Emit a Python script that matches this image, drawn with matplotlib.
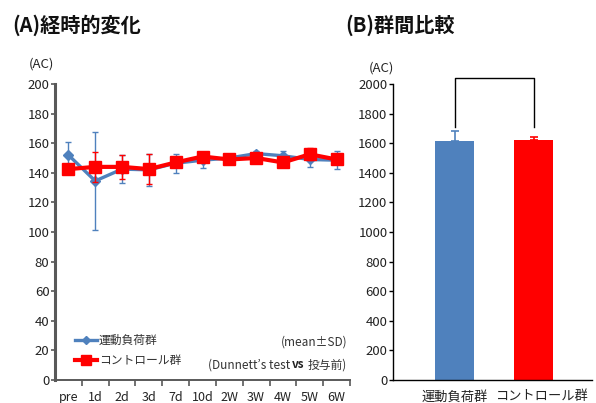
import matplotlib
matplotlib.use("Agg")
import matplotlib.pyplot as plt
from matplotlib.lines import Line2D
from matplotlib.transforms import blended_transform_factory
import numpy as np

plt.rcParams['font.family'] = ['Noto Sans CJK JP', 'DejaVu Sans']

# ---- (A) time course data ----
timepoints = ["pre", "1d", "2d", "3d", "7d", "10d", "2W", "3W", "4W", "5W", "6W"]
exercise_mean = [152, 134.5, 142.5, 142, 146.5, 148.5, 150, 153, 151.5, 149, 148.5]
exercise_sd = [9, 33, 9.5, 11, 6.5, 5, 2, 2, 3, 5, 6]
control_mean = [142.5, 144, 144, 142.5, 147, 151, 149, 150, 147, 152.5, 149]
control_sd = [3, 10, 8, 10, 3, 2, 2, 2, 3, 4, 3]

# ---- (B) group comparison data ----
groups = ["運動負荷群", "コントロール群"]
group_mean = [1615, 1622]
group_sd = [67, 22]
bracket_low = 1712
bracket_top = 2040

BLUE = "#4F81BD"
RED = "#FF0000"
SPINE = "#595959"
TXT = "#222222"

fig = plt.figure(figsize=(5.96, 4.03), dpi=100)

# ---------- panel A ----------
axA = fig.add_axes([55/596, 1-380/403, (350-55)/596, (380-84)/403])
x = np.arange(len(timepoints))
axA.errorbar(x, exercise_mean, yerr=exercise_sd, color=BLUE, lw=2.4,
             marker='D', markersize=5, ecolor=BLUE, elinewidth=1.0,
             capsize=2.5, capthick=1.0, zorder=3)
axA.errorbar(x, control_mean, yerr=control_sd, color=RED, lw=3.0,
             marker='s', markersize=8.5, ecolor=RED, elinewidth=1.0,
             capsize=2.5, capthick=1.0, zorder=4)
axA.set_xlim(-0.5, len(timepoints) - 0.5)
axA.set_ylim(0, 200)
axA.set_yticks(np.arange(0, 201, 20))
axA.set_xticks(x)
axA.set_xticklabels(timepoints)
axA.set_xticks(np.arange(0.5, len(timepoints), 1.0), minor=True)
axA.tick_params(axis='x', which='major', length=0, pad=8, labelsize=9,
                labelcolor=TXT)
axA.tick_params(axis='x', which='minor', length=4, width=1.2, color=SPINE,
                direction='out')
axA.tick_params(axis='y', length=3, width=1.2, color=SPINE, labelsize=9.5,
                labelcolor=TXT, pad=1)
for side in ('top', 'right'):
    axA.spines[side].set_visible(False)
axA.spines['left'].set_color(SPINE)
axA.spines['left'].set_linewidth(2.2)
axA.spines['bottom'].set_color(SPINE)
axA.spines['bottom'].set_linewidth(1.4)

handles = [Line2D([], [], color=BLUE, lw=2.4, marker='D', markersize=4),
           Line2D([], [], color=RED, lw=3.0, marker='s', markersize=7)]
leg = axA.legend(handles, ["運動負荷群", "コントロール群"], loc='lower left',
                 bbox_to_anchor=(0.04, 0.015), frameon=False, fontsize=8.5,
                 handlelength=1.9, handletextpad=0.1, labelspacing=0.6,
                 borderaxespad=0.3)
for t in leg.get_texts():
    t.set_color('#333333')

axA.text(0.99, 0.127, "(mean±SD)", transform=axA.transAxes, ha='right',
         va='center', fontsize=8.5, color='#333333')
t3 = axA.text(0.99, 0.052, "投与前)", transform=axA.transAxes, ha='right',
              va='center', fontsize=8.5, color='#333333')

fig.text(12/596, 1-25/403, "(A)経時的変化", fontsize=14.5, fontweight='bold',
         va='center', ha='left', color='#111111')
fig.text(29/596, 1-64/403, "(AC)", fontsize=9.5, va='center', ha='left',
         color=TXT)

# ---------- panel B ----------
axB = fig.add_axes([393/596, 1-380/403, (592-393)/596, (380-84)/403])
xb = np.arange(len(groups))
axB.bar(xb, group_mean, width=0.5, color=[BLUE, RED], zorder=2)
axB.errorbar(xb[0], group_mean[0], yerr=[[0], [group_sd[0]]], fmt='none',
             ecolor=BLUE, elinewidth=1.2, capsize=3, capthick=1.2, zorder=3)
axB.errorbar(xb[1], group_mean[1], yerr=[[0], [group_sd[1]]], fmt='none',
             ecolor=RED, elinewidth=1.2, capsize=3, capthick=1.2, zorder=3)
axB.plot([xb[0], xb[0], xb[1], xb[1]],
         [bracket_low, bracket_top, bracket_top, bracket_low],
         color='black', lw=1.0, clip_on=False)
axB.set_xlim(-0.78, 1.74)
axB.set_ylim(0, 2000)
axB.set_yticks(np.arange(0, 2001, 200))
axB.set_xticks(xb)
axB.set_xticklabels([])
axB.tick_params(axis='x', length=0)
axB.tick_params(axis='y', length=3, width=1.0, labelsize=9.5,
                labelcolor=TXT, pad=1)
for side in ('top', 'right'):
    axB.spines[side].set_visible(False)
axB.spines['left'].set_linewidth(1.0)
axB.spines['bottom'].set_linewidth(1.0)

# group labels beneath the bars (second one nudged right to leave a gap)
lbl_tr = blended_transform_factory(axB.transData, axB.transAxes)
label_offsets = [0.0, 0.11]
for xi, name, off in zip(xb, groups, label_offsets):
    axB.text(xi + off, -0.035, name, transform=lbl_tr, ha='center', va='top',
             fontsize=9.5, color=TXT)

fig.text(345/596, 1-25/403, "(B)群間比較", fontsize=14.5, fontweight='bold',
         va='center', ha='left', color='#111111')
fig.text(369/596, 1-68/403, "(AC)", fontsize=9.5, va='center', ha='left',
         color=TXT)

# compose "(Dunnett's test vs 投与前)" with a bold "vs"
fig.canvas.draw()
r = fig.canvas.get_renderer()
inv = fig.transFigure.inverted()
bb3 = t3.get_window_extent(r)
x_right = inv.transform((bb3.x0 - 3, 0))[0]
y_mid = inv.transform((0, (bb3.y0 + bb3.y1) / 2))[1]
t2 = fig.text(x_right, y_mid, "vs", fontsize=8.5, fontweight='bold',
              ha='right', va='center', color=TXT)
bb2 = t2.get_window_extent(r)
x_right2 = inv.transform((bb2.x0 - 2, 0))[0]
fig.text(x_right2, y_mid, "(Dunnett’s test", fontsize=8.5, ha='right',
         va='center', color='#333333')

fig.savefig("out.png", dpi=100)
